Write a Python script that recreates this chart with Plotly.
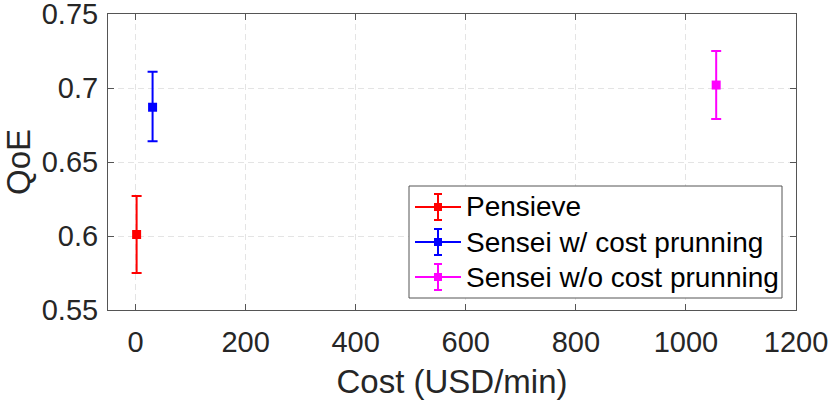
import plotly.graph_objects as go

# data
names = ['Pensieve', 'Sensei w/ cost prunning', 'Sensei w/o cost prunning']
cost = [2, 31, 1055]
qoe = [0.601, 0.687, 0.702]
qoe_hi = [0.627, 0.711, 0.725]
qoe_lo = [0.575, 0.664, 0.679]
colors = ['#ff0000', '#0000ff', '#ff00ff']

x_ticks = [0, 200, 400, 600, 800, 1000, 1200]
y_ticks = [0.55, 0.6, 0.65, 0.7, 0.75]
y_tick_text = ['0.55', '0.6', '0.65', '0.7', '0.75']

font = 'Liberation Sans, Arial, sans-serif'
axcol = '#262626'

W, H = 831, 404
L, R, T, B = 108, 35, 14, 94
pw, ph = W - L - R, H - T - B

fig = go.Figure()
for i in range(len(names)):
    fig.add_trace(go.Scatter(
        x=[cost[i]], y=[qoe[i]], name=names[i],
        mode='markers', showlegend=False,
        marker=dict(symbol='square', size=9, color=colors[i]),
        error_y=dict(type='data', symmetric=False,
                     array=[qoe_hi[i] - qoe[i]],
                     arrayminus=[qoe[i] - qoe_lo[i]],
                     color=colors[i], thickness=2, width=5),
    ))

axis_common = dict(
    showline=True, linecolor='#555555', linewidth=1, mirror='ticks',
    ticks='inside', ticklen=6, tickcolor='#555555', tickwidth=1,
    showgrid=True, gridcolor='#e4e4e4', griddash='6px,4px', gridwidth=1,
    zeroline=False, automargin=False, ticklabeloverflow='allow',
    tickfont=dict(family=font, size=29, color=axcol),
)

fig.update_xaxes(range=[-50, 1200], tickvals=x_ticks, ticklabelstandoff=6,
                 title=dict(text='Cost (USD/min)', font=dict(family=font, size=33, color=axcol), standoff=13),
                 **axis_common)
fig.update_yaxes(range=[0.55, 0.75], tickvals=y_ticks, ticktext=y_tick_text, ticklabelstandoff=3,
                 title=dict(text='QoE', font=dict(family=font, size=33, color=axcol), standoff=9),
                 **axis_common)

# matlab-style legend box, drawn by hand so the rows and error-bar glyphs match
px = lambda p: p / pw   # pixels -> paper x
py = lambda p: p / ph   # pixels -> paper y
leg_l, leg_r = 301, 674          # px from plot left
leg_top, leg_bot = 124, 12       # px above plot bottom
row0, row_h = 103, 35            # first row centre (px above bottom), row spacing
sym_l, sym_r, sym_c, txt_x = 6, 52, 29, 55

fig.add_shape(type='rect', xref='paper', yref='paper',
              x0=px(leg_l), x1=px(leg_r), y0=py(leg_bot), y1=py(leg_top),
              line=dict(color='#555555', width=1), fillcolor='white', layer='above')
for i in range(len(names)):
    yc = py(row0 - i * row_h)
    c = colors[i]
    fig.add_shape(type='line', xref='paper', yref='paper',
                  x0=px(leg_l + sym_l), x1=px(leg_l + sym_r), y0=yc, y1=yc,
                  line=dict(color=c, width=2), layer='above')
    xc = px(leg_l + sym_c)
    fig.add_shape(type='line', xref='paper', yref='paper',
                  x0=xc, x1=xc, y0=yc - py(13), y1=yc + py(13),
                  line=dict(color=c, width=2), layer='above')
    for s in (-13, 13):
        fig.add_shape(type='line', xref='paper', yref='paper',
                      x0=xc - px(4), x1=xc + px(4), y0=yc + py(s), y1=yc + py(s),
                      line=dict(color=c, width=2), layer='above')
    fig.add_shape(type='rect', xref='paper', yref='paper',
                  x0=xc - px(4), x1=xc + px(4), y0=yc - py(4), y1=yc + py(4),
                  line=dict(color=c, width=0), fillcolor=c, layer='above')
    fig.add_annotation(x=px(leg_l + txt_x), y=yc, xref='paper', yref='paper',
                       text=names[i], showarrow=False, xanchor='left', yanchor='middle',
                       font=dict(family=font, size=28, color='black'))

fig.update_layout(
    width=W, height=H,
    margin=dict(l=L, r=R, t=T, b=B),
    plot_bgcolor='white', paper_bgcolor='white',
    showlegend=False,
)

# page body has an 8px default margin; drop it so the figure sits at the corner
fig.write_html("out.html", config={'displayModeBar': False},
               post_script="document.body.style.margin='0';document.body.style.overflow='hidden';")
